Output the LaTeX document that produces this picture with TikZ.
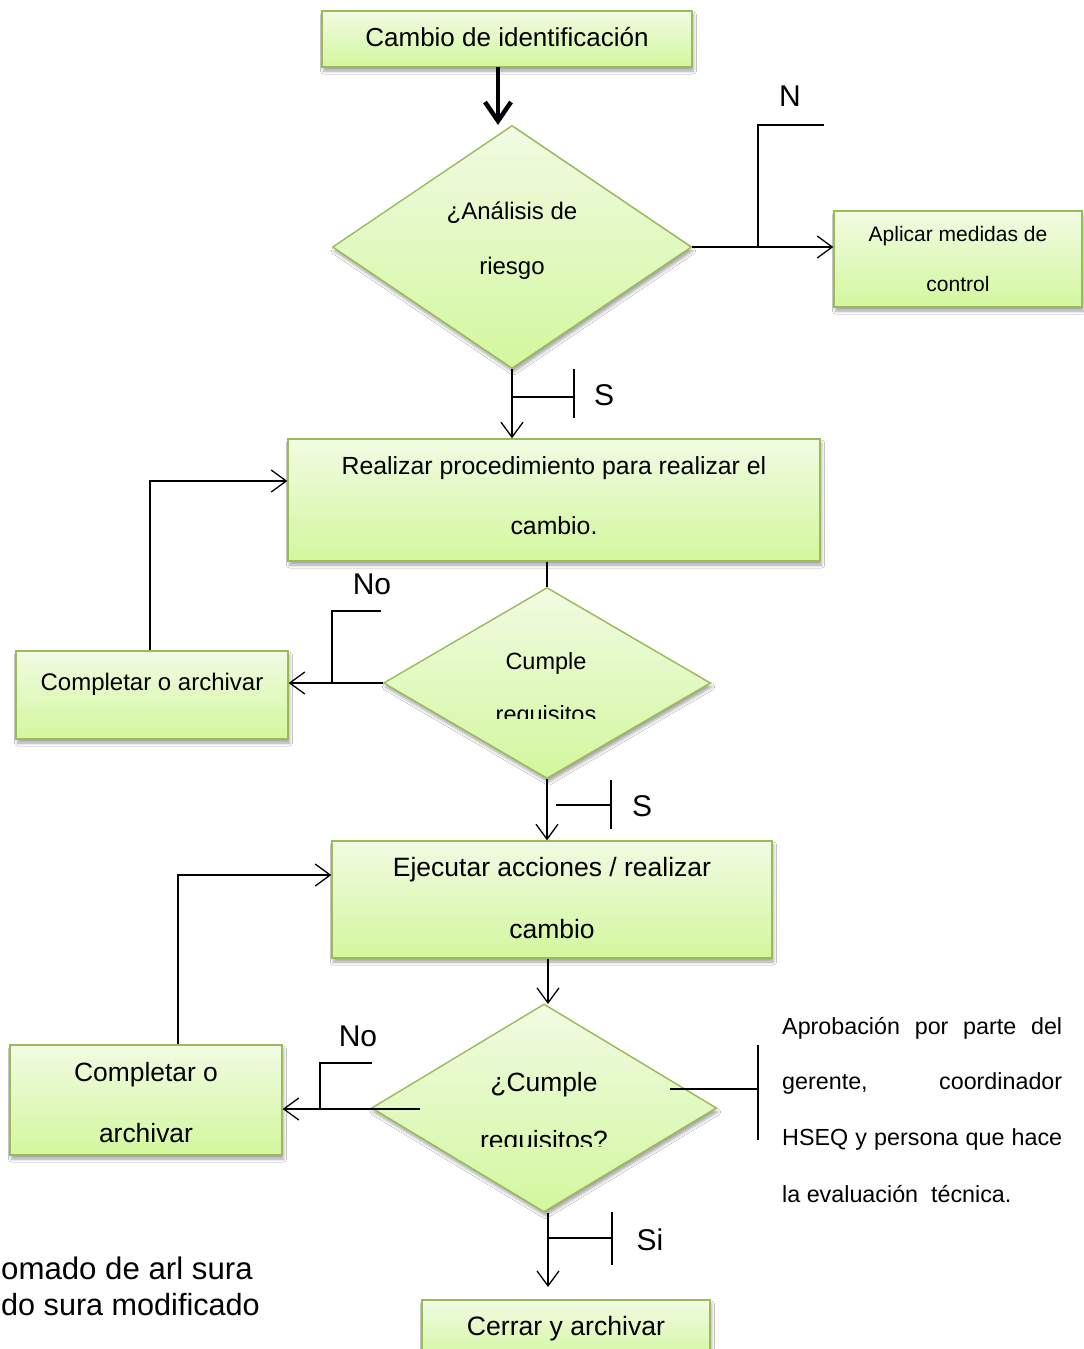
\documentclass[tikz,border=0pt]{standalone}
\usepackage{fontspec}
\setmainfont{Liberation Sans}
\usetikzlibrary{shapes.geometric,arrows.meta,shadows.blur}

\definecolor{boxline}{HTML}{9BBB59}
\definecolor{gtop}{HTML}{F1FBE3}
\definecolor{gbot}{HTML}{D3F79E}

\tikzset{
  greenfill/.style={draw=boxline, line width=1.4pt, top color=gtop, bottom color=gbot,
    blur shadow={shadow xshift=1.5pt, shadow yshift=-4pt, shadow blur radius=3pt, shadow opacity=35}},
  procbox/.style={greenfill, rectangle, inner sep=0pt, align=center},
  decision/.style={greenfill, diamond, inner sep=0pt},
  link/.style={line width=1.3pt, draw=black},
  arr/.style={link, -{Straight Barb[length=15pt,width=22pt,line width=1.3pt]}},
  bigarr/.style={draw=black, line width=4.5pt, -{Straight Barb[length=19pt,width=26pt,line width=4.5pt]}},
  lab/.style={font=\fontsize{30}{30}\selectfont, inner sep=0pt},
  txt/.style={inner sep=0pt, align=center},
}

\begin{document}
\begin{tikzpicture}[x=1pt, y=-1pt]
\useasboundingbox (0,0) rectangle (1084,1349);
\fill[white] (0,0) rectangle (1084,1349);
\clip (0,0) rectangle (1084,1349);

% ---- shapes ----
\node[procbox, minimum width=370pt, minimum height=56pt] (c1) at (507,39) {};
\node[decision, minimum width=359pt, minimum height=243pt] (d1) at (512,247) {};
\node[procbox, minimum width=248pt, minimum height=96pt] (ap) at (958,259) {};
\node[procbox, minimum width=532pt, minimum height=122pt] (b2) at (554,500) {};
\node[decision, minimum width=327pt, minimum height=191pt] (d2) at (547,683) {};
\node[procbox, minimum width=272pt, minimum height=88pt] (ca1) at (152,695) {};
\node[procbox, minimum width=440pt, minimum height=117pt] (b4) at (552,899.5) {};
\node[decision, minimum width=345pt, minimum height=208pt] (d3) at (544,1108) {};
\node[procbox, minimum width=272pt, minimum height=110pt] (ca2) at (146,1100) {};
\node[procbox, minimum width=288pt, minimum height=62pt] (b6) at (566,1331) {};

% ---- texts of the shapes ----
\node[txt, font=\fontsize{26}{30}\selectfont] (c1t) at (507,37.5) {Cambio de identificación};
\node[txt, font=\fontsize{24}{55}\selectfont] (d1t) at (512,240.5) {¿Análisis de\\riesgo};
\node[txt, font=\fontsize{21}{50}\selectfont] (apt) at (958,259) {Aplicar medidas de\\control};
\node[txt, font=\fontsize{24.8}{60}\selectfont] (b2t) at (554,496) {Realizar procedimiento para realizar el\\cambio.};
\node[txt, font=\fontsize{24}{30}\selectfont] (ca1t) at (152,684) {Completar o archivar};
\node[txt, font=\fontsize{26.5}{62}\selectfont] (b4t) at (552,898.5) {Ejecutar acciones / realizar\\cambio};
\node[txt, font=\fontsize{26.4}{61}\selectfont] (ca2t) at (146,1103) {Completar o\\archivar};
\node[txt, font=\fontsize{26.6}{30}\selectfont] (b6t) at (566,1329) {Cerrar y archivar};
\begin{scope}
  \clip (380,600) rectangle (720,718);
  \node[txt, font=\fontsize{23.5}{53}\selectfont] (d2t) at (546,689.5) {Cumple\\requisitos};
\end{scope}
\begin{scope}
  \clip (370,1040) rectangle (720,1146);
  \node[txt, font=\fontsize{26.4}{58}\selectfont] (d3t) at (544,1114) {¿Cumple\\requisitos?};
\end{scope}

% ---- connectors ----
\draw[bigarr] (498,67) coordinate (t0) -- (498,125) coordinate (t1);

\draw[arr] (d1.east) -- (d1.east -| ap.west);
\coordinate (nA) at (758,248);
\coordinate (nB) at (758,125);
\coordinate (nC) at (824,125);
\draw[link] (nA) -- (nB) -- (nC);
\node[lab] (lN) at (790,96) {N};

\draw[arr] (d1.south) -- (d1.south |- b2.north);
\coordinate (s1a) at (511,397);
\coordinate (s1b) at (574,397);
\draw[link] (s1a) -- (s1b);
\draw[link] (574,369) coordinate (s1c) -- (574,418) coordinate (s1d);
\node[lab] (lS1) at (604,395) {S};

\draw[link] (d2.north |- b2.south) -- (d2.north);

\draw[arr] (d2.west) -- (d2.west -| ca1.east);
\coordinate (n1a) at (332,683);
\coordinate (n1b) at (332,611);
\coordinate (n1c) at (381,611);
\draw[link] (n1a) -- (n1b) -- (n1c);
\node[lab] (lNo1) at (372,584) {No};

\coordinate (r1) at (150,481);
\draw[arr] (ca1.north -| r1) -- (r1) -- (r1 -| b2.west);

\draw[arr] (d2.south) -- (d2.south |- b4.north);
\draw[link] (556,805) coordinate (s2a) -- (611,805) coordinate (s2b);
\draw[link] (611,780) coordinate (s2c) -- (611,829) coordinate (s2d);
\node[lab] (lS2) at (642,806) {S};

\draw[arr] (b4.south -| 548,0) -- (548,1004) coordinate (d3top);

\coordinate (q1) at (420,1109);
\draw[arr] (q1) -- (q1 -| ca2.east);
\coordinate (n2a) at (320,1109);
\coordinate (n2b) at (320,1063);
\coordinate (n2c) at (372,1063);
\draw[link] (n2a) -- (n2b) -- (n2c);
\node[lab] (lNo2) at (358,1036) {No};

\coordinate (r2) at (178,875);
\draw[arr] (ca2.north -| r2) -- (r2) -- (r2 -| b4.west);

\coordinate (m1) at (670,1089);
\coordinate (m2) at (758,1089);
\draw[link] (m1) -- (m2);
\draw[link] (758,1045) coordinate (m3) -- (758,1140) coordinate (m4);

\coordinate (e1) at (548,1287);
\draw[arr] (d3.south -| e1) -- (e1);
\draw[link] (549,1238) coordinate (s3a) -- (612,1238) coordinate (s3b);
\draw[link] (612,1212) coordinate (s3c) -- (612,1265) coordinate (s3d);
\node[lab] (lSi) at (650,1240) {Si};

% ---- note beside the last decision ----
\begin{scope}[every node/.style={anchor=west, inner sep=0pt, font=\fontsize{23.3}{25}\selectfont}]
  \node (a1) at (782,1028) {\makebox[280pt][s]{Aprobación por parte del}};
  \node (a2) at (782,1083) {\makebox[280pt][s]{gerente, coordinador}};
  \node (a3) at (782,1139) {\makebox[280pt][s]{HSEQ y persona que hace}};
  \node (a4) at (782,1194) {la evaluación\ \ técnica.};
\end{scope}

% ---- source line ----
\node[anchor=base west, inner sep=0pt, font=\fontsize{31.2}{36}\selectfont] (src1) at (1,1279) {omado de arl sura};
\node[anchor=base west, inner sep=0pt, font=\fontsize{30.6}{36}\selectfont] (src2) at (1,1315) {do sura modificado};
\end{tikzpicture}
\end{document}
